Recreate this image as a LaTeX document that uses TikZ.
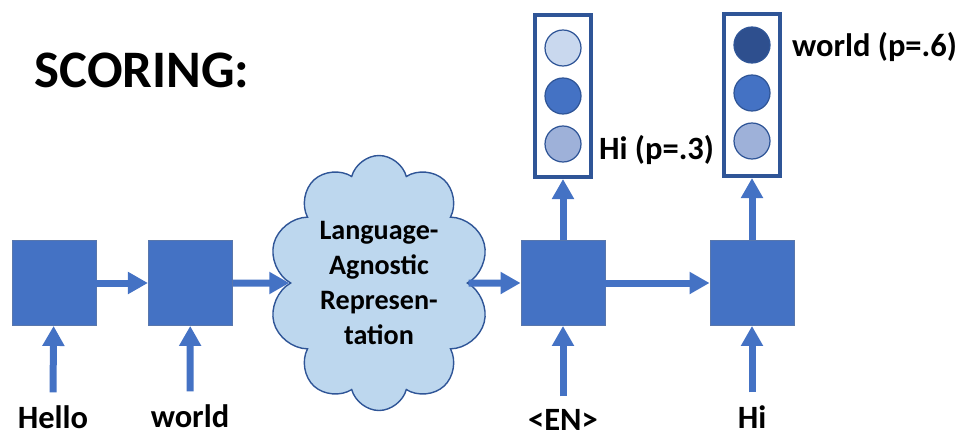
\documentclass[tikz,border=0pt]{standalone}
\usepackage{fontspec}
\setmainfont{Carlito}
\usepackage{tikz}
\usetikzlibrary{shapes.symbols, arrows.meta, positioning, calc}
\definecolor{cellblue}{HTML}{4472C4}
\definecolor{edgeblue}{HTML}{2F5597}
\definecolor{cloudblue}{HTML}{BDD7EE}
\definecolor{palecirc}{HTML}{C9D8EE}
\definecolor{greycirc}{HTML}{9EB1D9}
\definecolor{darkcirc}{HTML}{2E4F8E}

\begin{document}
\begin{tikzpicture}[
    cell/.style={rectangle, minimum width=1.68cm, minimum height=1.7cm, draw=edgeblue!80, line width=0.5pt, fill=cellblue},
    outbox/.style={rectangle, minimum width=1.12cm, minimum height=3.24cm, draw=edgeblue, line width=0.08cm},
    unit/.style={circle, minimum size=0.72cm, inner sep=0pt, draw=edgeblue, line width=0.7pt},
    word/.style={font=\bfseries\fontsize{18.5}{20}\selectfont, inner sep=1pt},
    arrow/.style={cellblue, line width=0.14cm, -{Triangle[length=0.4cm, width=0.42cm]}}
]
    \useasboundingbox (0,0) rectangle (19.32,-8.92);

    \node[font=\bfseries\fontsize{30}{32}\selectfont] (title) at (2.84,-1.4) {SCORING:};

    % encoder
    \node[cell] (enc1) at (1.08,-5.66) {};
    \node[cell, right=1.03cm of enc1] (enc2) {};
    \node[cloud, cloud puffs=10, cloud ignores aspect, minimum width=3.95cm, minimum height=5.1cm,
          draw=edgeblue, line width=0.8pt, fill=cloudblue, align=center,
          font=\bfseries\fontsize{16}{20}\selectfont] (repr) at (7.58,-5.66)
          {Language-\\Agnostic\\Represen-\\tation};

    % decoder
    \node[cell] (dec1) at (11.26,-5.66) {};
    \node[cell] (dec2) at (15.04,-5.66) {};

    % inputs
    \node[word] (hello) at (1.06,-8.34) {Hello};
    \node[word] (world) at (3.8,-8.32) {world};
    \node[word] (en) at (11.26,-8.4) {<EN>};
    \node[word] (hi) at (15.04,-8.34) {Hi};

    % output distributions
    \node[outbox] (outA) at (11.26,-1.92) {};
    \node[unit, fill=palecirc] (a1) at ($(outA)+(0,0.96)$) {};
    \node[unit, fill=cellblue] (a2) at (outA) {};
    \node[unit, fill=greycirc] (a3) at ($(outA)+(0,-0.96)$) {};
    \node[outbox] (outB) at (15.04,-1.9) {};
    \node[unit, fill=darkcirc] (b1) at ($(outB)+(0,1.0)$) {};
    \node[unit, fill=cellblue] (b2) at ($(outB)+(0,0.04)$) {};
    \node[unit, fill=greycirc] (b3) at ($(outB)+(0,-0.92)$) {};

    \node[word, anchor=west] (pA) at (11.94,-3.0) {Hi (p=.3)};
    \node[word, anchor=west] (pB) at (15.8,-0.94) {world (p=.6)};

    \draw[arrow] (enc1) -- (enc2);
    \draw[arrow] (enc2) -- (repr);
    \draw[arrow] (repr) -- (dec1);
    \draw[arrow] (dec1) -- (dec2);
    \draw[arrow] ([yshift=0.22cm]hello.north) -- (enc1);
    \draw[arrow] ([yshift=0.22cm]world.north) -- (enc2);
    \draw[arrow] ([yshift=0.22cm]en.north) -- (dec1);
    \draw[arrow] ([yshift=0.22cm]hi.north) -- (dec2);
    \draw[arrow] (dec1) -- (outA);
    \draw[arrow] (dec2) -- (outB);

\end{tikzpicture}
\end{document}
